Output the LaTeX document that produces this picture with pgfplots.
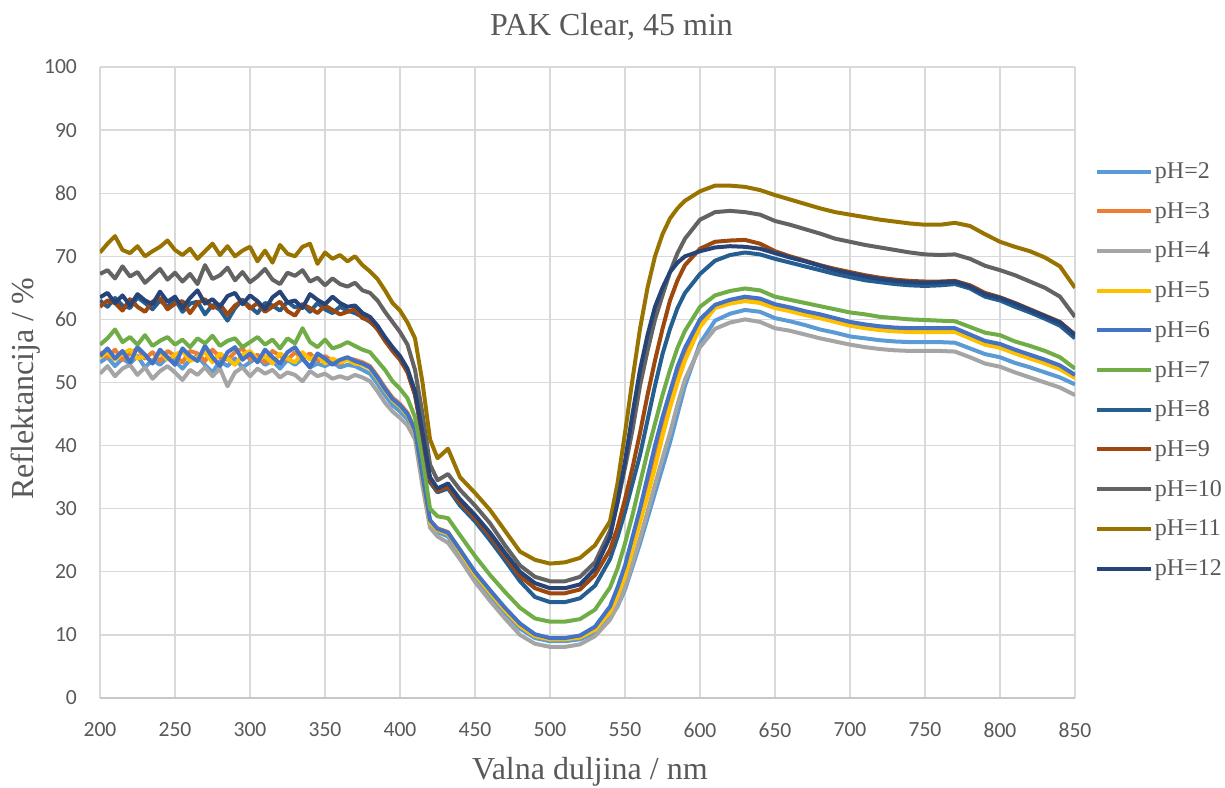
\documentclass[border=0pt]{standalone}
\usepackage{pgfplots}
\pgfplotsset{compat=1.18}
\usepackage{pgfplotstable}
\usepackage{fontspec}
\setmainfont{Liberation Serif}
\newfontfamily\tickfont{Carlito}
\definecolor{c2}{HTML}{5B9BD5}
\definecolor{c3}{HTML}{ED7D31}
\definecolor{c4}{HTML}{A5A5A5}
\definecolor{c5}{HTML}{FFC000}
\definecolor{c6}{HTML}{4472C4}
\definecolor{c7}{HTML}{70AD47}
\definecolor{c8}{HTML}{255E91}
\definecolor{c9}{HTML}{9E480E}
\definecolor{c10}{HTML}{636363}
\definecolor{c11}{HTML}{997300}
\definecolor{c12}{HTML}{264478}
\definecolor{txt}{HTML}{595959}
\definecolor{gridc}{HTML}{D9D9D9}

\pgfplotstableread{
x p2 p3 p4 p5 p6 p7 p8 p9 p10 p11 p12
200 53.2 54.8 51.4 54.0 54.2 56.0 63.0 62.0 67.2 70.6 63.5
205 54.0 54.0 52.6 54.8 55.4 57.0 62.0 63.0 67.8 72.0 64.2
210 52.6 55.2 51.0 53.6 53.8 58.4 63.4 62.6 66.5 73.2 62.6
215 53.8 53.6 52.2 54.6 55.0 56.4 62.2 61.4 68.4 71.0 63.8
220 53.0 54.6 52.8 55.2 53.2 57.2 61.8 63.2 66.8 70.5 62.2
225 54.2 55.4 51.2 53.8 55.6 56.0 63.5 62.0 67.5 71.6 64.0
230 52.4 53.8 52.4 54.2 54.4 57.5 62.6 61.2 65.8 70.0 63.0
235 53.6 54.8 50.6 53.2 53.0 55.8 61.6 62.8 66.9 70.8 62.4
240 52.8 53.4 51.8 54.8 55.2 56.6 63.0 63.4 68.0 71.5 64.4
245 54.0 55.0 52.6 53.6 54.0 57.2 62.0 61.6 66.3 72.5 62.8
250 53.4 54.2 51.6 54.4 52.8 56.0 63.2 62.5 67.4 71.0 63.6
255 52.2 53.2 50.4 55.0 55.4 56.8 61.2 62.9 66.0 70.2 61.8
260 53.6 55.0 52.0 53.4 54.2 55.6 62.5 61.0 67.2 71.2 63.4
265 54.2 54.6 51.2 54.0 53.4 57.0 62.8 62.6 65.6 69.6 64.6
270 52.8 53.4 52.4 54.8 55.8 56.2 60.8 63.2 68.6 70.8 62.5
275 51.6 55.2 51.0 53.2 54.0 57.4 62.3 61.8 66.4 72.0 63.2
280 53.4 54.0 52.2 54.6 52.6 55.8 61.5 62.4 67.0 70.2 62.0
285 52.6 53.6 49.4 53.8 54.8 56.6 59.8 60.8 68.2 71.6 63.7
290 53.8 54.8 51.6 52.8 55.6 57.0 61.8 62.2 66.2 70.0 64.2
295 52.4 55.4 52.4 54.4 53.6 55.6 63.1 63.0 67.5 70.9 62.4
300 53.2 53.6 51.0 55.0 54.6 56.4 62.0 61.7 65.9 71.5 63.8
305 54.0 54.4 52.2 53.6 53.2 57.2 61.0 62.6 66.8 69.2 62.9
310 52.8 53.2 51.4 54.2 55.2 56.0 62.6 61.2 68.0 70.9 61.6
315 53.4 55.0 52.0 53.0 54.0 56.8 62.2 62.0 66.3 69.0 63.5
320 52.2 54.2 50.8 54.6 53.0 55.4 61.4 62.8 65.6 71.8 64.4
325 53.6 53.6 51.6 53.8 54.8 57.0 62.8 61.3 67.4 70.4 62.7
330 52.8 54.8 51.2 53.2 55.6 56.2 61.9 60.6 66.9 70.0 63.0
335 53.8 53.8 50.2 54.8 53.8 58.6 62.4 62.4 67.8 71.5 61.8
340 52.4 54.6 51.8 53.6 52.4 56.4 61.2 61.8 66.0 72.0 64.0
345 53.0 53.4 51.0 54.4 54.6 55.6 62.6 61.0 66.6 68.8 63.1
350 52.6 54.2 51.4 53.0 53.8 56.8 61.6 62.2 65.4 70.6 62.4
355 53.2 53.4 50.6 53.8 52.8 55.4 61.0 61.5 66.5 69.6 63.6
360 52.4 53.0 51.0 53.2 53.6 55.8 62.0 60.8 65.6 70.2 62.6
365 52.8 53.8 50.6 53.6 54.0 56.4 61.4 61.2 65.2 69.2 62.0
370 52.6 53.6 51.2 53.0 53.4 55.8 61.0 61.6 65.8 70.0 62.2
375 52.0 53.2 50.8 52.8 53.0 55.2 60.4 60.2 64.6 68.6 61.0
380 51.4 52.6 50.2 52.2 52.4 54.8 59.6 59.8 64.2 67.6 60.4
385 49.8 51.0 48.6 50.6 50.8 53.4 58.6 58.4 63.0 66.4 59.0
390 48.0 49.2 46.8 48.8 49.0 52.0 56.8 56.6 61.2 64.6 57.2
395 46.4 47.6 45.4 47.2 47.4 50.2 55.2 55.0 59.6 62.6 55.6
400 45.4 46.6 44.4 46.2 46.4 49.0 53.8 53.6 58.0 61.4 54.2
405 44.2 45.2 43.2 44.8 45.0 47.5 51.8 51.6 56.0 59.5 52.2
410 41.8 42.6 41.0 42.2 42.4 44.5 48.2 48.0 52.0 57.0 48.6
415 34.6 35.4 33.6 35.0 35.2 38.0 41.6 41.5 45.0 50.0 42.0
420 27.6 28.0 27.0 27.8 28.2 30.0 34.2 34.5 37.0 41.0 35.0
425 26.3 26.9 25.6 26.6 26.8 28.8 32.6 32.8 34.5 38.0 33.2
432 25.6 26.3 24.6 26.0 26.2 28.5 33.2 33.5 35.5 39.5 34.0
440 22.8 23.4 22.0 23.2 23.5 25.8 30.5 31.0 33.0 35.0 31.5
450 19.2 19.8 18.4 19.6 20.0 22.5 28.0 28.5 30.5 32.5 29.0
460 16.3 16.9 15.4 16.7 17.1 19.5 25.0 25.7 27.7 29.8 26.2
470 13.5 14.1 12.6 13.9 14.3 16.8 21.8 22.5 24.2 26.5 23.0
480 11.0 11.6 10.0 11.4 11.8 14.3 18.5 19.3 21.0 23.2 20.0
490 9.5 9.9 8.6 9.8 10.1 12.6 16.0 17.4 19.2 21.9 18.2
500 9.0 9.4 8.1 9.3 9.5 12.1 15.2 16.6 18.5 21.3 17.4
510 9.0 9.4 8.1 9.3 9.5 12.1 15.2 16.6 18.5 21.5 17.4
520 9.3 9.8 8.5 9.6 9.9 12.5 15.8 17.2 19.2 22.2 18.0
530 10.4 11.0 9.8 10.8 11.3 14.0 17.8 19.5 21.5 24.2 20.5
540 12.8 14.0 12.4 13.6 14.5 17.5 22.0 23.5 26.5 28.0 25.5
545 14.5 16.8 14.6 16.2 17.5 20.5 25.5 27.0 31.0 34.0 31.0
550 17.2 20.2 17.6 19.3 21.0 24.5 29.5 31.5 36.5 42.0 37.5
555 20.8 24.5 21.3 23.5 25.5 29.0 34.0 36.5 42.5 50.5 45.0
560 24.5 29.0 25.3 27.8 30.0 34.0 38.5 42.0 49.5 58.5 52.0
565 28.5 33.5 29.5 32.0 35.0 39.0 44.0 48.0 55.0 65.0 57.5
570 32.5 38.2 33.8 36.5 40.0 43.5 49.5 53.5 60.0 70.0 62.0
575 36.5 43.0 38.0 41.5 44.5 48.0 54.5 58.5 63.8 73.5 65.0
580 40.5 47.2 42.0 46.0 48.5 52.0 58.5 63.0 67.5 76.0 67.5
585 45.0 51.2 46.5 50.0 52.5 55.5 61.8 66.2 70.5 77.6 69.0
590 49.5 54.5 50.5 53.5 55.5 58.2 64.2 68.6 72.8 78.8 70.0
600 56.2 59.2 55.6 58.8 60.0 62.0 67.2 71.2 75.8 80.3 70.8
610 59.8 62.1 58.5 61.8 62.3 63.8 69.3 72.3 77.0 81.2 71.4
620 60.9 62.8 59.5 62.5 63.1 64.5 70.2 72.5 77.2 81.2 71.6
630 61.5 63.2 60.0 62.9 63.6 64.9 70.6 72.6 77.0 81.0 71.5
640 61.2 62.9 59.6 62.6 63.3 64.6 70.3 72.0 76.6 80.5 71.2
650 60.2 62.1 58.6 61.8 62.4 63.6 69.6 70.8 75.6 79.7 70.5
660 59.7 61.6 58.2 61.3 61.9 63.1 69.0 70.0 75.0 79.0 69.8
670 59.1 61.0 57.6 60.7 61.3 62.6 68.4 69.3 74.3 78.3 69.2
680 58.4 60.5 57.0 60.2 60.8 62.1 67.8 68.6 73.6 77.6 68.5
690 57.9 59.9 56.5 59.6 60.2 61.6 67.2 68.0 72.8 77.0 67.8
700 57.3 59.3 56.0 59.0 59.6 61.1 66.7 67.5 72.3 76.6 67.3
710 57.0 58.9 55.6 58.6 59.2 60.8 66.2 67.0 71.8 76.2 66.8
720 56.7 58.6 55.3 58.3 58.9 60.4 65.9 66.6 71.4 75.8 66.4
730 56.5 58.4 55.1 58.1 58.7 60.2 65.6 66.3 71.0 75.5 66.1
740 56.4 58.3 55.0 58.0 58.6 60.0 65.4 66.1 70.6 75.2 65.9
750 56.4 58.3 55.0 58.0 58.6 59.9 65.3 66.0 70.3 75.0 65.8
760 56.4 58.3 55.0 58.0 58.6 59.8 65.4 66.0 70.2 75.0 65.9
770 56.3 58.3 54.9 58.0 58.6 59.7 65.6 66.1 70.3 75.3 66.0
780 55.4 57.3 54.0 57.0 57.6 58.8 64.9 65.4 69.6 74.8 65.2
790 54.5 56.3 53.0 56.0 56.6 57.9 63.6 64.2 68.5 73.5 64.0
800 54.0 55.8 52.5 55.5 56.1 57.5 63.0 63.5 67.8 72.3 63.4
810 53.1 54.9 51.6 54.6 55.2 56.5 62.0 62.6 67.0 71.5 62.5
820 52.4 54.1 50.8 53.8 54.4 55.8 61.1 61.6 66.0 70.8 61.5
830 51.6 53.3 50.0 53.0 53.6 55.0 60.1 60.6 65.0 69.8 60.5
840 50.8 52.4 49.2 52.1 52.7 54.0 59.0 59.6 63.6 68.4 59.5
850 49.7 51.0 48.0 50.7 51.2 52.2 57.0 57.6 60.4 65.0 57.5
}\data

\begin{document}
\begin{tikzpicture}
\path[use as bounding box] (-50pt,-44.5pt) rectangle (562.5pt,349pt);
\begin{axis}[
  at={(0pt,0pt)}, anchor=south west,
  scale only axis, width=487.5pt, height=315.5pt,
  xmin=200, xmax=850, ymin=0, ymax=100,
  xtick={200,250,...,850}, ytick={0,10,...,100},
  grid=major, grid style={draw=gridc, line width=0.6pt},
  axis x line*=bottom, axis y line*=left,
  x axis line style={-, draw=black!22, line width=0.9pt},
  y axis line style={draw=none},
  major tick length=0pt,
  /pgf/number format/assume math mode=true,
  tick label style={font=\tickfont\fontsize{10.8}{13}\selectfont, text=txt},
  xticklabel style={yshift=-8.9pt},
  yticklabel style={xshift=-8pt},
  title={PAK Clear, 45 min},
  title style={at={(0.5246,1)}, anchor=base, yshift=9.5pt, font=\fontsize{16}{19}\selectfont, text=txt},
  xlabel={Valna duljina / nm},
  xlabel style={at={(0.5025,0)}, anchor=base, yshift=-40.5pt, font=\fontsize{16}{19}\selectfont, text=txt},
  ylabel={Reflektancija / \%},
  ylabel style={at={(-0.0687,0.49)}, anchor=base, font=\fontsize{16}{19}\selectfont, text=txt},
  legend style={at={(1.0205,0.8518)}, anchor=north west, draw=none, fill=none,
    inner sep=0pt, outer sep=0pt, row sep=7.85pt, column sep=1pt,
    font=\fontsize{12}{14}\selectfont, text=txt,
    nodes={inner sep=0pt, text height=9pt, text depth=3pt}},
  legend cell align=left,
  legend image code/.code={\draw[#1, line width=2pt] (0pt,0.5pt) -- (27pt,0.5pt);},
  every axis plot/.append style={line width=2pt, line join=round, no marks},
]
\addplot[c2]  table[x=x,y=p2]{\data}; \addlegendentry{pH=2}
\addplot[c3]  table[x=x,y=p3]{\data}; \addlegendentry{pH=3}
\addplot[c4]  table[x=x,y=p4]{\data}; \addlegendentry{pH=4}
\addplot[c5]  table[x=x,y=p5]{\data}; \addlegendentry{pH=5}
\addplot[c6]  table[x=x,y=p6]{\data}; \addlegendentry{pH=6}
\addplot[c7]  table[x=x,y=p7]{\data}; \addlegendentry{pH=7}
\addplot[c8]  table[x=x,y=p8]{\data}; \addlegendentry{pH=8}
\addplot[c9]  table[x=x,y=p9]{\data}; \addlegendentry{pH=9}
\addplot[c10] table[x=x,y=p10]{\data}; \addlegendentry{pH=10}
\addplot[c11] table[x=x,y=p11]{\data}; \addlegendentry{pH=11}
\addplot[c12] table[x=x,y=p12]{\data}; \addlegendentry{pH=12}
\end{axis}
\end{tikzpicture}
\end{document}
